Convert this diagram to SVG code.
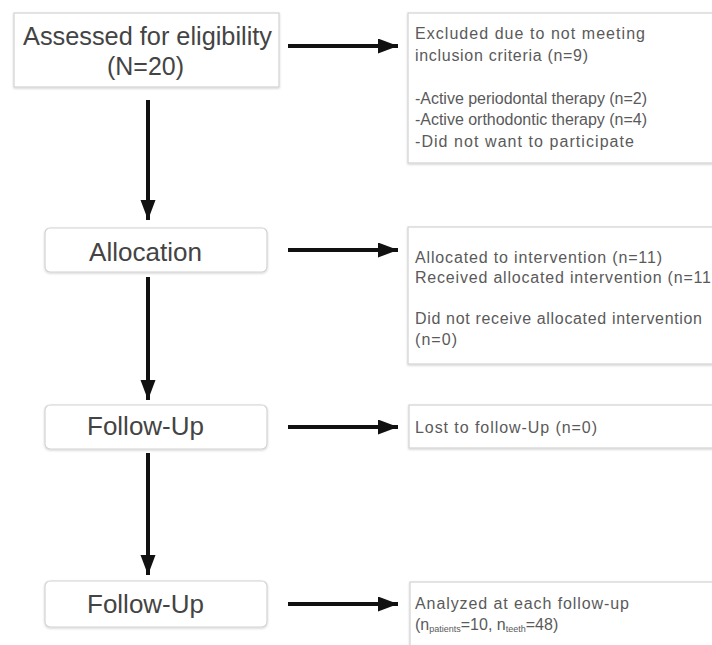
<svg xmlns="http://www.w3.org/2000/svg" width="712" height="645" viewBox="0 0 712 645">
<defs>
<filter id="sh" x="-5%" y="-5%" width="110%" height="115%">
<feDropShadow dx="0" dy="1" stdDeviation="1" flood-color="#000" flood-opacity="0.18"/>
</filter>
<marker id="ah" markerUnits="userSpaceOnUse" markerWidth="22" markerHeight="16" refX="20" refY="7.5" orient="auto">
<path d="M0,0 L20,7.5 L0,15 Z" fill="#111"/>
</marker>
<style>
.box{fill:#fff;stroke:#d2d2d2;stroke-width:1.2;filter:url(#sh)}
.big{font-family:"Liberation Sans",Arial,Helvetica,sans-serif;font-size:25px;fill:#444}
.sm{font-family:"Liberation Sans",Arial,Helvetica,sans-serif;font-size:16px;fill:#5a5a5a}
.sub{font-size:9px}
.con{stroke:#111;stroke-width:4;fill:none;marker-end:url(#ah)}
</style>
</defs>
<rect width="712" height="645" fill="#fff"/>
<g id="assessed">
<rect class="box" x="14" y="13" width="265" height="74"/>
<text class="big" x="23" y="45" textLength="249" lengthAdjust="spacingAndGlyphs">Assessed for eligibility</text>
<text class="big" x="107" y="75" textLength="77" lengthAdjust="spacingAndGlyphs">(N=20)</text>
</g>
<g id="excluded">
<rect class="box" x="408" y="13" width="320" height="150"/>
<text class="sm" x="415" y="39" textLength="230" lengthAdjust="spacing">Excluded due to not meeting</text>
<text class="sm" x="415" y="60.5" textLength="173" lengthAdjust="spacing">inclusion criteria (n=9)</text>
<text class="sm" x="415" y="103.5" textLength="232" lengthAdjust="spacing">-Active periodontal therapy (n=2)</text>
<text class="sm" x="415" y="125" textLength="232" lengthAdjust="spacing">-Active orthodontic therapy (n=4)</text>
<text class="sm" x="415" y="146.5" textLength="219" lengthAdjust="spacing">-Did not want to participate</text>
</g>
<g id="allocation">
<rect class="box" x="45" y="228" width="222" height="44" rx="5"/>
<text class="big" x="89" y="261" textLength="113" lengthAdjust="spacingAndGlyphs">Allocation</text>
</g>
<g id="allocated">
<rect class="box" x="408" y="227" width="320" height="137"/>
<text class="sm" x="415" y="262.5" textLength="247" lengthAdjust="spacing">Allocated to intervention (n=11)</text>
<text class="sm" x="415" y="283" textLength="296" lengthAdjust="spacing">Received allocated intervention (n=11</text>
<text class="sm" x="415" y="324" textLength="287" lengthAdjust="spacing">Did not receive allocated intervention</text>
<text class="sm" x="415" y="344.5" textLength="42" lengthAdjust="spacing">(n=0)</text>
</g>
<g id="followup1">
<rect class="box" x="45" y="405" width="222" height="44" rx="5"/>
<text class="big" x="87" y="435" textLength="117" lengthAdjust="spacingAndGlyphs">Follow-Up</text>
</g>
<g id="lost">
<rect class="box" x="409" y="405" width="320" height="43"/>
<text class="sm" x="415" y="433" textLength="182" lengthAdjust="spacing">Lost to follow-Up (n=0)</text>
</g>
<g id="followup2">
<rect class="box" x="45" y="581" width="222" height="46" rx="5"/>
<text class="big" x="87" y="613" textLength="117" lengthAdjust="spacingAndGlyphs">Follow-Up</text>
</g>
<g id="analyzed">
<rect class="box" x="410" y="582" width="320" height="80"/>
<text class="sm" x="415" y="609" textLength="214" lengthAdjust="spacing">Analyzed at each follow-up</text>
<text class="sm" x="415" y="630">(n<tspan class="sub" dy="2">patients</tspan><tspan dy="-2">=10, n</tspan><tspan class="sub" dy="2">teeth</tspan><tspan dy="-2">=48)</tspan></text>
</g>
<g id="connectors">
<line class="con" x1="288" y1="46" x2="398" y2="46"/>
<line class="con" x1="288" y1="250" x2="398" y2="250"/>
<line class="con" x1="288" y1="427" x2="398" y2="427"/>
<line class="con" x1="288" y1="604" x2="398" y2="604"/>
<line class="con" x1="148" y1="100" x2="148" y2="220"/>
<line class="con" x1="148" y1="277" x2="148" y2="400"/>
<line class="con" x1="148" y1="453" x2="148" y2="575"/>
</g>
</svg>
